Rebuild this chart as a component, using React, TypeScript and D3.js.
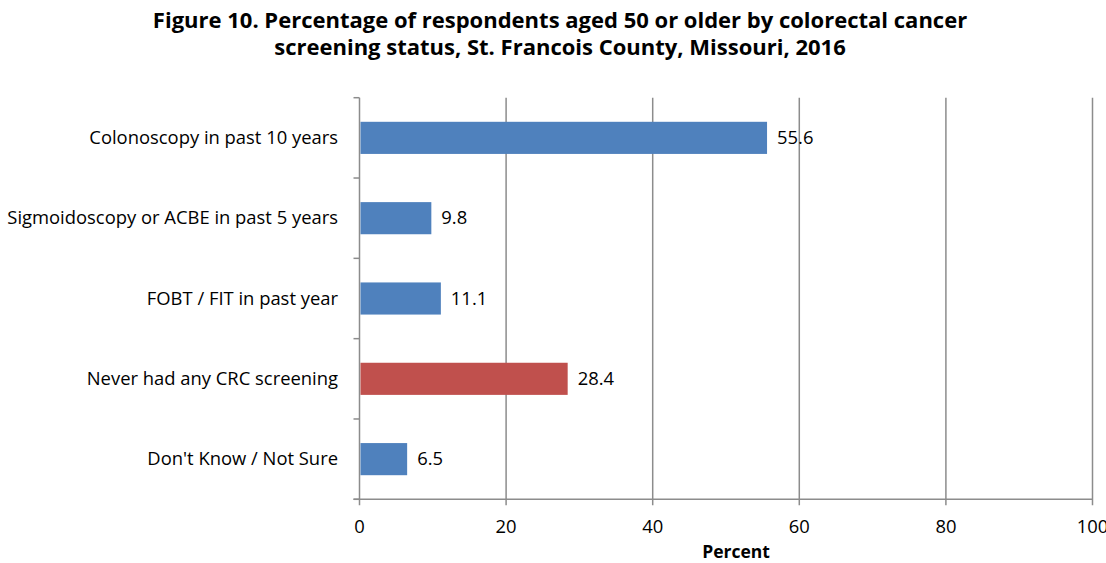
import React from "react";
import * as d3 from "d3";

const categories = [
  "Colonoscopy in past 10 years",
  "Sigmoidoscopy or ACBE in past 5 years",
  "FOBT / FIT in past year",
  "Never had any CRC screening",
  "Don't Know / Not Sure",
];
const values = [55.6, 9.8, 11.1, 28.4, 6.5];
const barColors = ["#4F81BD", "#4F81BD", "#4F81BD", "#C0504D", "#4F81BD"];
const xTicks = [0, 20, 40, 60, 80, 100];
const titleLines = [
  "Figure 10. Percentage of respondents aged 50 or older by colorectal cancer",
  "screening status, St. Francois County, Missouri, 2016",
];
const xAxisTitle = "Percent";

export default function App() {
  const W = 1106, H = 563;
  const left = 359.5, right = 1092.5, top = 97.7, bottom = 499.3;
  const x = d3.scaleLinear().domain([0, 100]).range([left, right]);
  const y = d3.scaleBand().domain(categories).range([top, bottom]).paddingInner(0.6).paddingOuter(0.3);
  const bandStep = (bottom - top) / categories.length;
  const font = "'Open Sans', sans-serif";
  const grid = "#8c8c8c";
  return (
    <svg width={W} height={H} style={{ position: "absolute", left: 0, top: 0, background: "#fff" }} fontFamily={font}>
      {titleLines.map((t, i) => (
        <text key={i} x={560} y={27.5 + i * 27.5} textAnchor="middle" fontSize={22} fontWeight="bold" fill="#000">{t}</text>
      ))}
      {xTicks.slice(1).map((t) => (
        <line key={t} x1={x(t)} x2={x(t)} y1={top} y2={bottom + 6} stroke={grid} strokeWidth={1.5} />
      ))}
      <line x1={x(0)} x2={x(0)} y1={top} y2={bottom + 6} stroke={grid} strokeWidth={1.5} />
      <line x1={left - 6} x2={right} y1={bottom} y2={bottom} stroke={grid} strokeWidth={1.5} />
      {d3.range(categories.length + 1).map((i) => (
        <line key={i} x1={left - 6} x2={left} y1={top + i * bandStep} y2={top + i * bandStep} stroke={grid} strokeWidth={1.5} />
      ))}
      {categories.map((c, i) => {
        const yy = y(c)!;
        const bh = y.bandwidth();
        return (
          <g key={c}>
            <rect x={x(0) + 1} y={yy} width={x(values[i]) - x(0) - 1} height={bh} fill={barColors[i]} />
            <text x={x(values[i]) + 10} y={yy + bh / 2 + 6} fontSize={18.4} fill="#000">{values[i].toFixed(1)}</text>
            <text x={338} y={yy + bh / 2 + 6} fontSize={18.4} textAnchor="end" fill="#000">{c}</text>
          </g>
        );
      })}
      {xTicks.map((t) => (
        <text key={t} x={x(t)} y={533} fontSize={18.4} textAnchor="middle" fill="#000">{t}</text>
      ))}
      <text x={736} y={558} fontSize={17.5} fontWeight="bold" textAnchor="middle" fill="#000">{xAxisTitle}</text>
    </svg>
  );
}
